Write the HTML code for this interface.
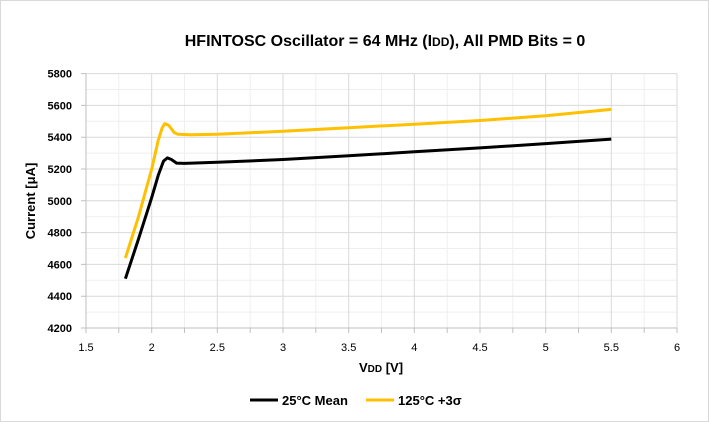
<!DOCTYPE html><html><head><style>body{margin:0}svg{display:block}text{font-family:"Liberation Sans",sans-serif}</style></head><body>
<svg width="709" height="422" viewBox="0 0 709 422" xmlns="http://www.w3.org/2000/svg">
<rect x="0.5" y="0.5" width="708" height="421" fill="#fff" stroke="#d9d9d9"/>
<text x="385" y="46" font-size="16" font-weight="bold" text-anchor="middle">HFINTOSC Oscillator = 64 MHz (I<tspan font-size="12">DD</tspan>), All PMD Bits  = 0</text>
<g stroke="#efefef">
<line x1="86" x2="677" y1="312.1" y2="312.1"/><line x1="86" x2="677" y1="280.3" y2="280.3"/><line x1="86" x2="677" y1="248.5" y2="248.5"/><line x1="86" x2="677" y1="216.7" y2="216.7"/><line x1="86" x2="677" y1="184.9" y2="184.9"/><line x1="86" x2="677" y1="153.1" y2="153.1"/><line x1="86" x2="677" y1="121.3" y2="121.3"/><line x1="86" x2="677" y1="89.5" y2="89.5"/>
<line y1="73.6" y2="328" x1="118.8" x2="118.8"/><line y1="73.6" y2="328" x1="184.5" x2="184.5"/><line y1="73.6" y2="328" x1="250.2" x2="250.2"/><line y1="73.6" y2="328" x1="315.8" x2="315.8"/><line y1="73.6" y2="328" x1="381.5" x2="381.5"/><line y1="73.6" y2="328" x1="447.2" x2="447.2"/><line y1="73.6" y2="328" x1="512.8" x2="512.8"/><line y1="73.6" y2="328" x1="578.5" x2="578.5"/><line y1="73.6" y2="328" x1="644.2" x2="644.2"/>
</g>
<g stroke="#d9d9d9">
<line x1="86" x2="677" y1="296.2" y2="296.2"/><line x1="86" x2="677" y1="264.4" y2="264.4"/><line x1="86" x2="677" y1="232.6" y2="232.6"/><line x1="86" x2="677" y1="200.8" y2="200.8"/><line x1="86" x2="677" y1="169" y2="169"/><line x1="86" x2="677" y1="137.2" y2="137.2"/><line x1="86" x2="677" y1="105.4" y2="105.4"/><line x1="86" x2="677" y1="73.6" y2="73.6"/>
<line y1="73.6" y2="328" x1="151.7" x2="151.7"/><line y1="73.6" y2="328" x1="217.3" x2="217.3"/><line y1="73.6" y2="328" x1="283" x2="283"/><line y1="73.6" y2="328" x1="348.7" x2="348.7"/><line y1="73.6" y2="328" x1="414.3" x2="414.3"/><line y1="73.6" y2="328" x1="480" x2="480"/><line y1="73.6" y2="328" x1="545.7" x2="545.7"/><line y1="73.6" y2="328" x1="611.3" x2="611.3"/><line y1="73.6" y2="328" x1="677" x2="677"/>
</g>
<g stroke="#bfbfbf">
<line x1="86" x2="677" y1="328" y2="328"/><line x1="86" x2="86" y1="73.6" y2="328"/>
<path d="M86,328v5M118.8,328v5M151.7,328v5M184.5,328v5M217.3,328v5M250.2,328v5M283,328v5M315.8,328v5M348.7,328v5M381.5,328v5M414.3,328v5M447.2,328v5M480,328v5M512.8,328v5M545.7,328v5M578.5,328v5M611.3,328v5M644.2,328v5M677,328v5M81,328h5M81,296.2h5M81,264.4h5M81,232.6h5M81,200.8h5M81,169h5M81,137.2h5M81,105.4h5M81,73.6h5"/>
</g>
<g font-size="11" font-weight="bold" text-anchor="end">
<text x="72" y="332">4200</text><text x="72" y="300.2">4400</text><text x="72" y="268.4">4600</text><text x="72" y="236.6">4800</text><text x="72" y="204.8">5000</text><text x="72" y="173">5200</text><text x="72" y="141.2">5400</text><text x="72" y="109.4">5600</text><text x="72" y="77.6">5800</text>
</g>
<g font-size="11" text-anchor="middle">
<text x="86" y="351">1.5</text><text x="151.7" y="351">2</text><text x="217.3" y="351">2.5</text><text x="283" y="351">3</text><text x="348.7" y="351">3.5</text><text x="414.3" y="351">4</text><text x="480" y="351">4.5</text><text x="545.7" y="351">5</text><text x="611.3" y="351">5.5</text><text x="677" y="351">6</text>
</g>
<path d="M125.4,258 L138.5,216.7 L151.7,169 L158.2,140.4 L162.2,127.7 L164.8,123.7 L168.7,125.3 L174,132.4 L177.9,134.3 L191.1,134.8 L217.3,134.3 L283,131.2 L348.7,127.7 L414.3,124.2 L480,120.5 L545.7,115.7 L611.3,109.4" fill="none" stroke="#ffc000" stroke-width="3" stroke-linejoin="round"/>
<path d="M125.4,278.7 L138.5,239 L151.7,197.6 L158.2,175.4 L163.5,161.1 L167.4,157.9 L171.4,159.5 L176.6,163.1 L184.5,163.4 L217.3,162.3 L283,159.5 L348.7,155.8 L414.3,151.8 L480,147.9 L545.7,143.6 L611.3,139.1" fill="none" stroke="#000" stroke-width="3" stroke-linejoin="round"/>
<text x="35" y="201" font-size="13" font-weight="bold" text-anchor="middle" transform="rotate(-90 35 201)">Current [μA]</text>
<text x="381" y="372" font-size="13" font-weight="bold" text-anchor="middle">V<tspan font-size="10">DD</tspan> [V]</text>
<line x1="250" y1="400" x2="278" y2="400" stroke="#000" stroke-width="3"/>
<text x="282" y="405" font-size="13" font-weight="bold">25°C Mean</text>
<line x1="366" y1="400" x2="394" y2="400" stroke="#ffc000" stroke-width="3"/>
<text x="398" y="405" font-size="13" font-weight="bold">125°C +3σ</text>
</svg></body></html>
